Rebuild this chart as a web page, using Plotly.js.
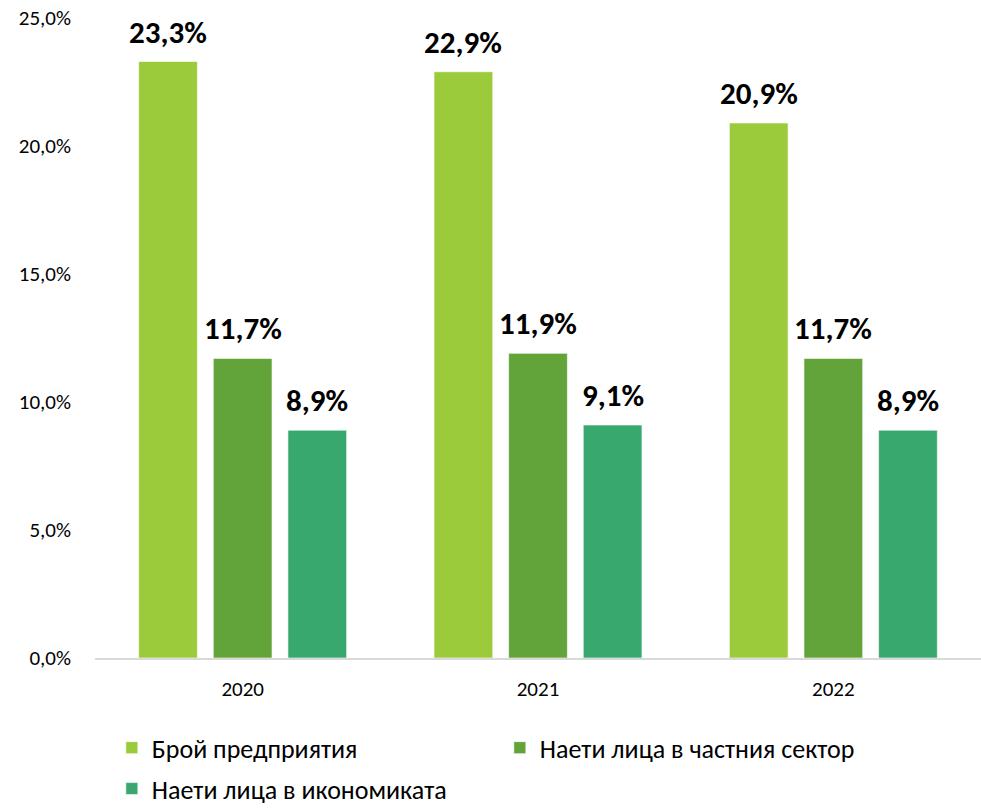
<!DOCTYPE html>
<html>
<head>
<meta charset="utf-8">
<script src="https://cdn.plot.ly/plotly-3.0.1.min.js"></script>
<style>html,body{margin:0;padding:0;background:#fff;}#chart{width:981px;height:809px;}</style>
</head>
<body>
<div id="chart"></div>
<script>
const years = ['2020', '2021', '2022'];
const seriesNames = ['Брой предприятия', 'Наети лица в частния сектор', 'Наети лица в икономиката'];
const enterprises = [23.3, 22.9, 20.9];
const privateEmployed = [11.7, 11.9, 11.7];
const economyEmployed = [8.9, 9.1, 8.9];
const tickValues = [0, 5, 10, 15, 20, 25];
const tickLabels = ['0,0%', '5,0%', '10,0%', '15,0%', '20,0%', '25,0%'];
const colors = ['#9BCB3B', '#62A43A', '#38A86E'];

const fontFam = 'Carlito, Calibri, "Noto Sans", sans-serif';
const bargap = 0.242;
const values = [enterprises, privateEmployed, economyEmployed];
const legendIds = ['legend', 'legend', 'legend2'];

const fmt = v => v.toFixed(1).replace('.', ',') + '%';

const traces = values.map((v, i) => ({
  type: 'bar',
  name: seriesNames[i],
  x: years,
  y: v,
  legend: legendIds[i],
  marker: {color: colors[i], line: {color: 'rgba(255,255,255,0.6)', width: 1}},
  hoverinfo: 'skip'
}));

// data labels above bars, placed at each bar's group slot
const slot = (1 - bargap) / values.length;
const annotations = [];
values.forEach((v, j) => {
  v.forEach((val, i) => {
    annotations.push({
      xref: 'x', yref: 'y',
      x: i + (j - (values.length - 1) / 2) * slot,
      y: val,
      text: '<b>' + fmt(val) + '</b>',
      showarrow: false,
      xanchor: 'center', yanchor: 'bottom',
      yshift: 9,
      font: {family: fontFam, size: 31, color: '#000000'}
    });
  });
});

const legendCommon = {
  orientation: 'h',
  xref: 'paper', yref: 'paper',
  x: 0.019, xanchor: 'left',
  yanchor: 'top',
  entrywidth: 343,
  entrywidthmode: 'pixels',
  font: {family: fontFam, size: 26, color: '#000000'},
  bgcolor: 'rgba(0,0,0,0)',
  borderwidth: 0
};

const layout = {
  width: 981,
  height: 809,
  margin: {l: 95, r: 0, t: 18, b: 151, autoexpand: false},
  paper_bgcolor: '#ffffff',
  plot_bgcolor: '#ffffff',
  font: {family: fontFam, color: '#000000'},
  barmode: 'group',
  bargap: bargap,
  bargroupgap: 0.213,
  showlegend: true,
  legend: Object.assign({}, legendCommon, {y: -0.1035}),
  legend2: Object.assign({}, legendCommon, {y: -0.1675}),
  annotations: annotations,
  xaxis: {
    type: 'category',
    showline: true,
    linecolor: '#d9d9d9',
    linewidth: 2,
    showgrid: false,
    zeroline: false,
    ticks: '',
    tickfont: {family: fontFam, size: 21, color: '#000000'},
    ticklabelstandoff: 11
  },
  yaxis: {
    range: [0, 25],
    tickvals: tickValues,
    ticktext: tickLabels,
    showgrid: false,
    zeroline: false,
    showline: false,
    ticks: '',
    tickfont: {family: fontFam, size: 21, color: '#000000'},
    ticklabelstandoff: 23
  }
};

Plotly.newPlot('chart', traces, layout, {displayModeBar: false, staticPlot: true});
</script>
</body>
</html>
